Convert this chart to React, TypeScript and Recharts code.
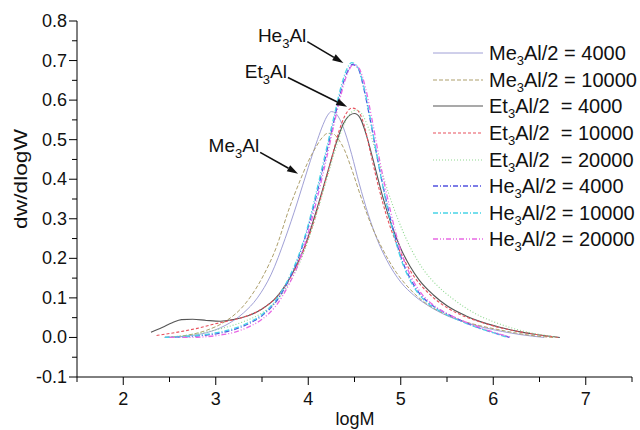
import React from "react";
import { LineChart, Line, XAxis, YAxis, ReferenceLine, Label } from "recharts";

type Pt = [number, number];

// dw/dlogW vs logM
const me3Al4000: Pt[] = [
  [2.45, 0], [2.7, 0.004], [2.9, 0.012], [3.1, 0.03], [3.3, 0.062], [3.45, 0.1], [3.6, 0.16],
  [3.75, 0.25], [3.88, 0.34], [4.0, 0.43], [4.1, 0.5], [4.16, 0.538], [4.21, 0.562], [4.25, 0.571],
  [4.29, 0.568], [4.34, 0.552], [4.4, 0.517], [4.47, 0.462], [4.55, 0.39], [4.65, 0.31], [4.75, 0.245],
  [4.85, 0.195], [5.0, 0.14], [5.15, 0.105], [5.3, 0.08], [5.5, 0.055], [5.7, 0.038], [5.9, 0.025],
  [6.1, 0.015], [6.3, 0.007], [6.55, 0],
];
const me3Al10000: Pt[] = [
  [2.45, 0], [2.7, 0.006], [2.9, 0.018], [3.1, 0.04], [3.3, 0.08], [3.5, 0.15], [3.65, 0.225],
  [3.8, 0.33], [3.9, 0.39], [4.0, 0.445], [4.08, 0.48], [4.15, 0.505], [4.21, 0.516], [4.26, 0.516],
  [4.32, 0.503], [4.39, 0.475], [4.47, 0.425], [4.57, 0.355], [4.68, 0.285], [4.8, 0.225], [4.95, 0.165],
  [5.1, 0.122], [5.25, 0.09], [5.45, 0.062], [5.65, 0.043], [5.85, 0.03], [6.05, 0.02], [6.25, 0.011],
  [6.45, 0.004], [6.65, 0],
];
const et3Al4000: Pt[] = [
  [2.3, 0.013], [2.42, 0.025], [2.53, 0.037], [2.63, 0.045], [2.75, 0.046], [2.9, 0.043], [3.05, 0.041],
  [3.2, 0.046], [3.35, 0.055], [3.5, 0.072], [3.65, 0.1], [3.8, 0.15], [3.9, 0.195], [4.0, 0.255],
  [4.1, 0.33], [4.2, 0.41], [4.3, 0.49], [4.38, 0.54], [4.45, 0.562], [4.5, 0.566], [4.56, 0.555],
  [4.63, 0.51], [4.7, 0.45], [4.8, 0.36], [4.9, 0.285], [5.0, 0.225], [5.1, 0.18], [5.2, 0.145],
  [5.35, 0.108], [5.5, 0.08], [5.7, 0.055], [5.86, 0.04], [6.05, 0.027], [6.25, 0.016], [6.45, 0.008], [6.72, 0],
];
const et3Al10000: Pt[] = [
  [2.36, 0.005], [2.5, 0.01], [2.65, 0.016], [2.8, 0.023], [2.95, 0.032], [3.1, 0.04], [3.25, 0.048],
  [3.4, 0.06], [3.55, 0.08], [3.7, 0.113], [3.85, 0.17], [3.95, 0.22], [4.05, 0.285], [4.15, 0.365],
  [4.25, 0.45], [4.33, 0.52], [4.4, 0.562], [4.47, 0.58], [4.53, 0.575], [4.6, 0.54], [4.67, 0.47],
  [4.75, 0.39], [4.85, 0.305], [4.95, 0.24], [5.05, 0.19], [5.15, 0.152], [5.3, 0.112], [5.45, 0.083],
  [5.65, 0.057], [5.85, 0.04], [6.05, 0.026], [6.25, 0.016], [6.45, 0.008], [6.7, 0],
];
const et3Al20000: Pt[] = [
  [2.45, 0], [2.7, 0.006], [2.9, 0.014], [3.1, 0.025], [3.3, 0.04], [3.5, 0.062], [3.65, 0.09],
  [3.8, 0.14], [3.9, 0.185], [4.0, 0.245], [4.1, 0.32], [4.2, 0.4], [4.3, 0.48], [4.38, 0.535],
  [4.45, 0.565], [4.52, 0.575], [4.58, 0.565], [4.65, 0.53], [4.73, 0.47], [4.82, 0.4], [4.92, 0.33],
  [5.02, 0.27], [5.12, 0.22], [5.25, 0.17], [5.4, 0.13], [5.55, 0.1], [5.7, 0.075], [5.85, 0.055],
  [6.0, 0.04], [6.2, 0.024], [6.4, 0.012], [6.6, 0.004], [6.7, 0],
];
const he3Al4000: Pt[] = [
  [2.45, 0], [2.7, 0.002], [2.9, 0.006], [3.05, 0.011], [3.2, 0.02], [3.35, 0.034], [3.5, 0.055],
  [3.65, 0.09], [3.8, 0.15], [3.9, 0.205], [4.0, 0.28], [4.1, 0.37], [4.2, 0.47], [4.28, 0.55],
  [4.35, 0.62], [4.42, 0.67], [4.48, 0.69], [4.54, 0.68], [4.6, 0.63], [4.67, 0.55], [4.75, 0.45],
  [4.83, 0.36], [4.92, 0.27], [5.0, 0.205], [5.1, 0.15], [5.2, 0.112], [5.3, 0.088], [5.45, 0.066],
  [5.64, 0.044], [5.8, 0.028], [6.0, 0.012], [6.18, 0],
];
const he3Al10000: Pt[] = [
  [2.45, 0], [2.7, 0.003], [2.9, 0.008], [3.05, 0.014], [3.2, 0.023], [3.35, 0.037], [3.5, 0.058],
  [3.65, 0.095], [3.8, 0.155], [3.9, 0.21], [4.0, 0.285], [4.1, 0.38], [4.2, 0.48], [4.28, 0.56],
  [4.35, 0.63], [4.42, 0.68], [4.47, 0.695], [4.53, 0.685], [4.6, 0.635], [4.67, 0.555], [4.75, 0.45],
  [4.83, 0.355], [4.92, 0.265], [5.0, 0.2], [5.1, 0.145], [5.2, 0.108], [5.3, 0.085], [5.45, 0.063],
  [5.64, 0.042], [5.8, 0.027], [6.0, 0.012], [6.15, 0],
];
const he3Al20000: Pt[] = [
  [2.5, 0], [2.75, 0], [2.9, 0.002], [3.05, 0.006], [3.2, 0.013], [3.35, 0.026], [3.5, 0.046],
  [3.65, 0.08], [3.8, 0.138], [3.9, 0.19], [4.0, 0.265], [4.1, 0.355], [4.2, 0.455], [4.28, 0.54],
  [4.35, 0.61], [4.42, 0.665], [4.49, 0.69], [4.55, 0.68], [4.62, 0.63], [4.69, 0.55], [4.77, 0.45],
  [4.85, 0.36], [4.94, 0.27], [5.02, 0.205], [5.12, 0.15], [5.22, 0.112], [5.32, 0.088], [5.47, 0.064],
  [5.66, 0.043], [5.82, 0.028], [6.02, 0.012], [6.2, 0],
];

const xTicks = [1.5, 2, 2.5, 3, 3.5, 4, 4.5, 5, 5.5, 6, 6.5, 7, 7.5];
const yTicks = [
  -0.1, -0.05, 0, 0.05, 0.1, 0.15, 0.2, 0.25, 0.3, 0.35, 0.4, 0.45, 0.5, 0.55, 0.6, 0.65, 0.7, 0.75, 0.8,
];

const FONT = '"Liberation Sans", Arial, Helvetica, sans-serif';

const series = [
  { key: "me4000", sp: "Me", name: "Al/2 = 4000", pts: me3Al4000, color: "#a0a0d6", dash: undefined, w: 1 },
  { key: "me10000", sp: "Me", name: "Al/2 = 10000", pts: me3Al10000, color: "#ad9f6c", dash: "4 2", w: 1 },
  { key: "et4000", sp: "Et", name: "Al/2  = 4000", pts: et3Al4000, color: "#555555", dash: undefined, w: 1.1 },
  { key: "et10000", sp: "Et", name: "Al/2  = 10000", pts: et3Al10000, color: "#e8505c", dash: "3 2", w: 1.1 },
  { key: "et20000", sp: "Et", name: "Al/2  = 20000", pts: et3Al20000, color: "#8fd890", dash: "1 2", w: 1.1 },
  { key: "he4000", sp: "He", name: "Al/2 = 4000", pts: he3Al4000, color: "#5252e0", dash: "5 2 1 2", w: 1.3 },
  { key: "he10000", sp: "He", name: "Al/2 = 10000", pts: he3Al10000, color: "#48d4e6", dash: "5 2 1 2", w: 1.3 },
  { key: "he20000", sp: "He", name: "Al/2 = 20000", pts: he3Al20000, color: "#e868e4", dash: "5 2 1 2 1 2", w: 1.3 },
];

const isMajor = (v: number, step: number) => Math.abs(v / step - Math.round(v / step)) < 1e-6;

function XTick({ x, y, payload }: any) {
  const v = payload.value;
  const major = isMajor(v, 1);
  return (
    <g>
      <line x1={x} x2={x} y1={y} y2={y + (major ? 8 : 5)} stroke="#000" strokeWidth={1} />
      {major && v > 1.6 && (
        <text x={x} y={y + 28} textAnchor="middle" fontSize={18} fontFamily={FONT} fill="#111">
          {v}
        </text>
      )}
    </g>
  );
}

function YTick({ x, y, payload }: any) {
  const v = payload.value;
  const major = isMajor(v, 0.1);
  return (
    <g>
      <line x1={x - (major ? 8 : 5)} x2={x} y1={y} y2={y} stroke="#000" strokeWidth={1} />
      {major && (
        <text x={x - 10} y={y + 6} textAnchor="end" fontSize={18} fontFamily={FONT} fill="#111">
          {v.toFixed(1)}
        </text>
      )}
    </g>
  );
}

function arrow(sp: string) {
  return (p: any) => {
    const { x1, y1, x2, y2 } = p;
    const a = Math.atan2(y2 - y1, x2 - x1);
    const L = 11;
    const W = 3.5;
    const bx = x2 - L * Math.cos(a);
    const by = y2 - L * Math.sin(a);
    const pts = `${x2},${y2} ${bx - W * Math.sin(a)},${by + W * Math.cos(a)} ${bx + W * Math.sin(a)},${by - W * Math.cos(a)}`;
    return (
      <g>
        <line x1={x1} y1={y1} x2={bx} y2={by} stroke="#111" strokeWidth={1.6} />
        <polygon points={pts} fill="#111" />
        <text x={x1 - 1} y={y1} textAnchor="end" fontSize={19} fontFamily={FONT} fill="#111">
          {sp}
          <tspan fontSize={13} dy={6}>3</tspan>
          <tspan dy={-6}>Al</tspan>
        </text>
      </g>
    );
  };
}

function LegendBox() {
  return (
    <div style={{ position: "absolute", left: 433, top: 40, fontFamily: FONT, fontSize: 20, color: "#111" }}>
      {series.map((s) => (
        <div key={s.key} style={{ display: "flex", alignItems: "center", height: 26.6, whiteSpace: "pre" }}>
          <svg width={50} height={4} style={{ marginRight: 6 }}>
            <line x1={0} x2={50} y1={2} y2={2} stroke={s.color} strokeWidth={s.w} strokeDasharray={s.dash} />
          </svg>
          <span style={{ lineHeight: "20px" }}>
            {s.sp}
            <sub style={{ fontSize: 13, verticalAlign: "-5px", lineHeight: 0 }}>3</sub>
            {s.name}
          </span>
        </div>
      ))}
    </div>
  );
}

export default function App() {
  return (
    <div style={{ position: "absolute", left: 0, top: 0, width: 640, height: 430, background: "#fff" }}>
      <LineChart width={640} height={430} margin={{ top: 21, right: 8, left: 0, bottom: 0 }}>
        <XAxis
          type="number"
          dataKey="x"
          domain={[1.5, 7.5]}
          ticks={xTicks}
          interval={0}
          allowDataOverflow
          height={53}
          tickSize={0}
          tickMargin={0}
          tickLine={false}
          tick={<XTick />}
          axisLine={{ stroke: "#000", strokeWidth: 1 }}
        >
          <Label
            content={() => (
              <text x={355} y={425} textAnchor="middle" fontSize={18} fontFamily={FONT} fill="#111">
                logM
              </text>
            )}
          />
        </XAxis>
        <YAxis
          type="number"
          dataKey="y"
          domain={[-0.1, 0.8]}
          ticks={yTicks}
          interval={0}
          allowDataOverflow
          width={77}
          tickSize={0}
          tickMargin={0}
          tickLine={false}
          tick={<YTick />}
          axisLine={{ stroke: "#000", strokeWidth: 1 }}
        >
          <Label
            content={() => (
              <text
                transform="translate(27,179) rotate(-90)"
                textAnchor="middle"
                fontSize={19}
                fontFamily={FONT}
                fill="#111"
                textLength={100}
                lengthAdjust="spacingAndGlyphs"
              >
                dw/dlogW
              </text>
            )}
          />
        </YAxis>
        {series.map((s) => (
          <Line
            key={s.key}
            data={s.pts.map(([x, y]) => ({ x, y }))}
            dataKey="y"
            type="monotone"
            stroke={s.color}
            strokeWidth={s.w}
            strokeDasharray={s.dash}
            dot={false}
            activeDot={false}
            isAnimationActive={false}
          />
        ))}
        <ReferenceLine segment={[{ x: 3.99, y: 0.748 }, { x: 4.38, y: 0.694 }]} shape={arrow("He")} ifOverflow="visible" />
        <ReferenceLine segment={[{ x: 3.78, y: 0.657 }, { x: 4.42, y: 0.583 }]} shape={arrow("Et")} ifOverflow="visible" />
        <ReferenceLine segment={[{ x: 3.48, y: 0.468 }, { x: 3.89, y: 0.414 }]} shape={arrow("Me")} ifOverflow="visible" />
      </LineChart>
      <LegendBox />
    </div>
  );
}
